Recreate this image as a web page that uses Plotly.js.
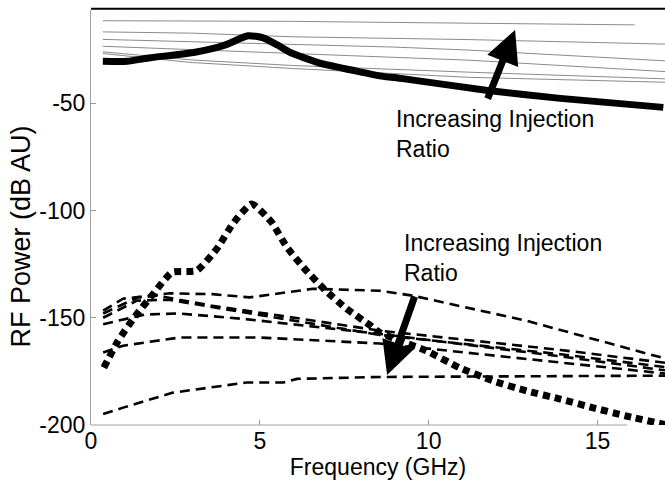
<!DOCTYPE html>
<html>
<head>
<meta charset="utf-8">
<script src="https://cdn.plot.ly/plotly-3.0.1.min.js"></script>
<style>html,body{margin:0;padding:0;background:#fff;}#chart{width:665px;height:483px;}</style>
</head>
<body>
<div id="chart"></div>
<script>
// Thick solid line (top spectrum)
var solidX = [0.35, 1.07, 1.75, 3.08, 3.96, 4.65, 5.1, 5.53, 5.89, 6.78, 7.75, 8.55, 9.23, 11.7, 13.9, 16.95];
var solidY = [-30.4, -30.4, -28.8, -26.2, -22.9, -18.5, -19.5, -22.9, -26.2, -31.3, -34.6, -37.2, -38.5, -43.9, -47.7, -51.9];

// Thin grey lines (increasing injection ratio, top group)
var thinX = [0.35, 3, 6, 9, 11.2, 17];
var thin1Y = [-11.5, -11.6, -11.8, -12.3, -12.6, -13.6];
var thin2Y = [-16.7, -17.3, -19.0, -19.8, -20.3, -22.4];
var thin3Y = [-20.2, -21.2, -22.6, -23.8, -25.2, -30.2];
var thin4Y = [-23.4, -25.0, -26.8, -28.4, -29.9, -35.2];
var thin5Y = [-26.0, -29.8, -32.4, -34.2, -35.5, -38.6];
var thin6Y = [-26.8, -31.0, -33.8, -36.2, -37.9, -40.2];
var thin1End = 16.1;

// Thick dotted line (lower spectrum)
var dotX = [0.38, 0.8, 1.3, 1.84, 2.4, 3.13, 3.73, 4.2, 4.76, 5.35, 5.8, 6.33, 6.92, 7.57, 8.25, 8.55, 9.93, 10.9, 11.9, 12.9, 13.9, 14.85, 15.85, 17];
var dotY = [-173.2, -160.8, -149.5, -138.9, -128.8, -128.0, -117.8, -106.2, -96.9, -105.5, -117.1, -127.2, -136.9, -145.8, -153.3, -156.9, -165.4, -173.2, -179.4, -184.1, -187.9, -191.9, -195.8, -199.8];

// Dashed lines (increasing injection ratio, lower group)
var d1X = [0.36, 0.95, 2.34, 3.6, 4.7, 6.57, 8.55, 9.53, 12.9, 17];
var d1Y = [-146.7, -141.1, -138.6, -139.0, -140.5, -136.5, -137.4, -139.7, -151.4, -169.0];
var d2X = [0.36, 1.36, 1.96, 3.6, 5.6, 8.55, 13.9, 17];
var d2Y = [-148.0, -140.7, -139.7, -144.4, -149.0, -156.0, -165.0, -171.0];
var d3X = [0.36, 1.36, 2.3, 4.7, 8.55, 13.9, 17];
var d3Y = [-150.0, -142.0, -141.6, -148.0, -158.0, -167.0, -173.0];
var d4X = [0.36, 1.6, 2.6, 4.5, 8.55, 13.9, 17];
var d4Y = [-153.0, -148.5, -148.0, -150.5, -157.5, -168.0, -174.5];
var d5X = [0.36, 0.95, 2.63, 5.0, 8.55, 13.9, 17];
var d5Y = [-166.2, -163.0, -159.2, -159.2, -162.0, -171.0, -176.0];
var d6X = [0.36, 0.95, 2.43, 4.6, 5.7, 6.1, 8.55, 13.0, 17];
var d6Y = [-194.9, -191.9, -184.9, -180.2, -180.2, -178.5, -177.6, -177.3, -177.0];

var xTicks = [0, 5, 10, 15];
var yTicks = [-200, -150, -100, -50];
var labelText = "Increasing Injection<br>Ratio";
var xTitle = "Frequency (GHz)";
var yTitle = "RF Power (dB AU)";

var FONT = "Liberation Sans, Arial, Helvetica, sans-serif";
var thinStyle = {color: "#8a8a8a", width: 1};
var dashStyle = {color: "#000", width: 2.6, dash: "10px,6px"};

function trunc(xs, ys, xmax) {
  var ox = [], oy = [];
  for (var i = 0; i < xs.length; i++) {
    if (xs[i] <= xmax) { ox.push(xs[i]); oy.push(ys[i]); }
    else {
      var t = (xmax - xs[i-1]) / (xs[i] - xs[i-1]);
      ox.push(xmax); oy.push(ys[i-1] + t * (ys[i] - ys[i-1]));
      break;
    }
  }
  return [ox, oy];
}
var t1 = trunc(thinX, thin1Y, thin1End);

var traces = [
  {x: t1[0], y: t1[1], mode: "lines", line: thinStyle},
  {x: thinX, y: thin2Y, mode: "lines", line: thinStyle},
  {x: thinX, y: thin3Y, mode: "lines", line: thinStyle},
  {x: thinX, y: thin4Y, mode: "lines", line: thinStyle},
  {x: thinX, y: thin5Y, mode: "lines", line: thinStyle},
  {x: thinX, y: thin6Y, mode: "lines", line: thinStyle},
  {x: solidX, y: solidY, mode: "lines", line: {color: "#000", width: 7, shape: "spline", smoothing: 0.6}},
  {x: d1X, y: d1Y, mode: "lines", line: dashStyle},
  {x: d2X, y: d2Y, mode: "lines", line: dashStyle},
  {x: d3X, y: d3Y, mode: "lines", line: dashStyle},
  {x: d4X, y: d4Y, mode: "lines", line: dashStyle},
  {x: d5X, y: d5Y, mode: "lines", line: dashStyle},
  {x: d6X, y: d6Y, mode: "lines", line: dashStyle},
  {x: dotX, y: dotY, mode: "lines", line: {color: "#000", width: 7, dash: "7px,5px", shape: "spline", smoothing: 0.5}}
];

var layout = {
  width: 665, height: 483,
  margin: {l: 91, r: 0, t: 10, b: 58},
  paper_bgcolor: "#fff", plot_bgcolor: "#fff",
  showlegend: false,
  font: {family: FONT, size: 23, color: "#000"},
  xaxis: {
    range: [0, 17], tickvals: xTicks, ticktext: xTicks.map(String),
    showgrid: false, zeroline: false, showline: false,
    ticks: "inside", ticklen: 5, tickcolor: "#999", tickwidth: 1,
    tickfont: {family: FONT, size: 23, color: "#000"},
    title: {text: xTitle, font: {family: FONT, size: 23, color: "#000"}, standoff: 2}
  },
  yaxis: {
    range: [-200, -6.5], tickvals: yTicks, ticktext: yTicks.map(String),
    showgrid: false, zeroline: false, showline: true, linecolor: "#a0a0a0", linewidth: 1,
    ticks: "inside", ticklen: 5, tickcolor: "#999", tickwidth: 1,
    tickfont: {family: FONT, size: 23, color: "#000"}
  },
  shapes: [
    {type: "line", xref: "x", yref: "paper", x0: 0, x1: 15.88, y0: 0, y1: 0, line: {color: "#a0a0a0", width: 1}},
    {type: "line", xref: "paper", yref: "paper", x0: 0, x1: 1, y0: 1.003, y1: 1.003, line: {color: "#000", width: 2}}
  ],
  annotations: [
    {xref: "x", yref: "y", x: 12.56, y: -15.8, ax: 11.73, ay: -48.5, axref: "x", ayref: "y",
     showarrow: true, arrowhead: 2, arrowsize: 0.95, arrowwidth: 7, arrowcolor: "#000", text: ""},
    {xref: "x", yref: "y", x: 8.77, y: -176.7, ax: 9.6, ay: -139.4, axref: "x", ayref: "y",
     showarrow: true, arrowhead: 2, arrowsize: 0.95, arrowwidth: 7, arrowcolor: "#000", text: ""},
    {xref: "x", yref: "y", x: 8.97, y: -50.3, xanchor: "left", yanchor: "top", align: "left",
     showarrow: false, text: labelText, font: {family: FONT, size: 23, color: "#000"}},
    {xref: "x", yref: "y", x: 9.21, y: -108.2, xanchor: "left", yanchor: "top", align: "left",
     showarrow: false, text: labelText, font: {family: FONT, size: 23, color: "#000"}},
    {xref: "paper", yref: "paper", x: -0.122, y: 0.454, xanchor: "center", yanchor: "middle",
     textangle: -90, showarrow: false, text: yTitle, font: {family: FONT, size: 27, color: "#000"}}
  ]
};

Plotly.newPlot("chart", traces, layout, {staticPlot: true, displayModeBar: false});
</script>
</body>
</html>
